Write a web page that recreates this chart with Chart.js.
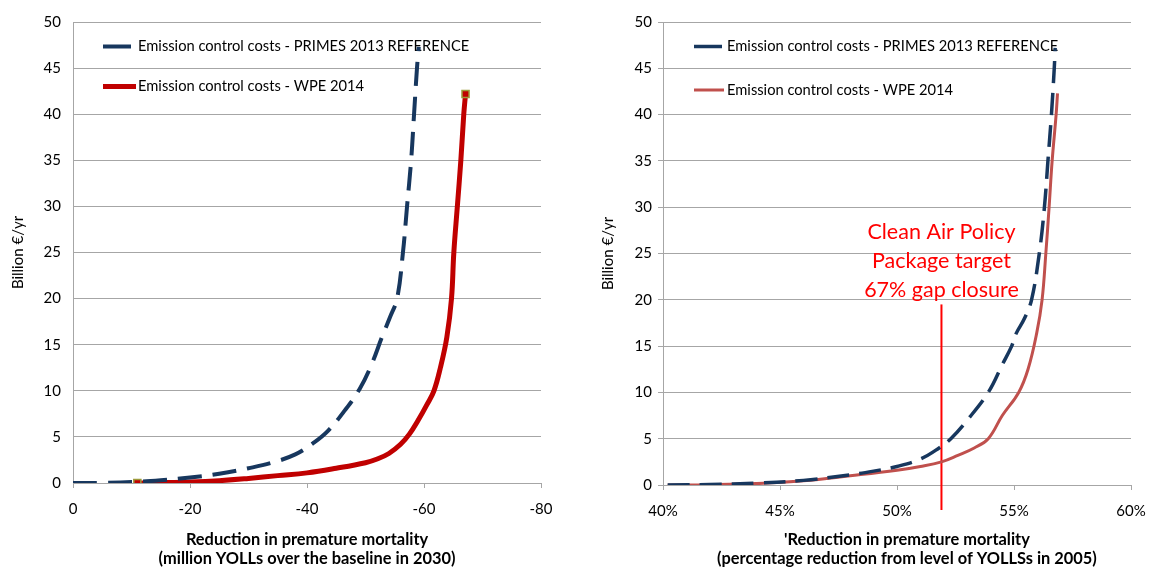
<!DOCTYPE html>
<html>
<head>
<meta charset="utf-8">
<script src="https://cdn.jsdelivr.net/npm/chart.js@4"></script>
<style>
body { margin: 0; background: #fff; width: 1150px; height: 572px; overflow: hidden; }
#left { position: absolute; left: 0; top: 0; }
#right { position: absolute; left: 580px; top: 0; }
</style>
</head>
<body>
<canvas id="left" width="580" height="572"></canvas>
<canvas id="right" width="570" height="572"></canvas>
<script>
const seriesNames = ['Emission control costs - PRIMES 2013 REFERENCE', 'Emission control costs - WPE 2014']

// left chart: reduction in million YOLLs vs billion euro per year
const leftPrimesX = [0, -5, -10, -15, -20, -25, -30, -34, -38, -41, -43.5, -46.5, -49, -51, -52.8, -54.2, -55.4, -56.4, -57.1, -57.8, -58.3, -58.8, -59.1]
const leftPrimesY = [0, 0.02, 0.1, 0.3, 0.6, 1.0, 1.6, 2.2, 3.1, 4.3, 5.6, 7.9, 10.2, 12.8, 15.8, 18, 20, 25, 30, 35, 40, 45, 47.3]
const leftWpeX = [-11, -15, -20, -25, -30, -35, -40, -45, -50, -52, -54, -56, -57.5, -59, -60.5, -61.7, -62.8, -63.9, -64.7, -65.1, -65.7, -66.3, -66.8, -67.1]
const leftWpeY = [0, 0.03, 0.1, 0.25, 0.5, 0.8, 1.1, 1.6, 2.2, 2.6, 3.2, 4.2, 5.3, 6.8, 8.5, 10, 12.5, 15.8, 20, 25, 30, 35, 40, 42.2]

// right chart: percentage reduction from 2005 level vs billion euro per year
const rightPrimesX = [40.2, 42, 44, 46, 48, 49, 50, 51, 51.8, 52.3, 53, 53.9, 54.5, 54.9, 55.1, 55.45, 55.75, 56.08, 56.3, 56.45, 56.6, 56.72, 56.76]
const rightPrimesY = [0, 0.05, 0.2, 0.5, 1.1, 1.5, 2.0, 2.8, 4.0, 5, 7, 10, 13, 15, 16.4, 18, 20, 25, 30, 35, 40, 45, 47.2]
const rightWpeX = [40.2, 42, 44, 46, 48, 50, 51, 51.9, 52.6, 53.3, 53.9, 54.5, 55.2, 55.6, 55.97, 56.2, 56.36, 56.5, 56.63, 56.8, 56.86]
const rightWpeY = [0, 0.03, 0.15, 0.45, 1.0, 1.6, 2.0, 2.5, 3.2, 4.0, 5, 7.5, 10, 12.5, 16.4, 20, 25, 30, 35, 40, 42.3]

// target line and its note
const targetX = [51.9, 51.9]
const targetY = [-2.7, 19.5]
const noteLines = ['Clean Air Policy', 'Package target', '67% gap closure']
const noteY = [27.3, 24.2, 21.0]

const yTitle = 'Billion €/yr'
const leftXTitle = ['Reduction in premature mortality', '(million YOLLs over the baseline in 2030)']
// the nbsp prefix nudges the centred title right, as in the original
const rightXTitle = ["\u00A0\u00A0\u00A0\u00A0\u00A0'Reduction in premature mortality", '\u00A0\u00A0\u00A0\u00A0\u00A0(percentage reduction from level of YOLLSs in 2005)']

const FONT = 'Lato'
const navy = '#17375E'

const zip = (xs, ys) => xs.map((x, i) => ({x, y: ys[i]}))

const insideLegend = {
    id: 'insideLegend',
    beforeDatasetsDraw(chart, args, opts) {
        const ctx = chart.ctx
        ctx.save()
        chart.data.datasets.filter(d => d.label).forEach((ds, i) => {
            const y = opts.y[i]
            ctx.strokeStyle = ds.borderColor
            ctx.lineWidth = ds.borderWidth
            ctx.beginPath()
            ctx.moveTo(opts.x, y)
            ctx.lineTo(opts.x + opts.len[i], y)
            ctx.stroke()
            ctx.fillStyle = '#000'
            ctx.font = `${opts.size}px ${FONT}`
            ctx.textBaseline = 'middle'
            ctx.fillText(ds.label, opts.textX, y)
        })
        ctx.restore()
    }
}

const note = {
    id: 'note',
    afterDatasetsDraw(chart) {
        const ctx = chart.ctx
        const xs = chart.scales.x, ys = chart.scales.y
        ctx.save()
        ctx.fillStyle = '#FF0000'
        ctx.font = `21.5px ${FONT}`
        ctx.textAlign = 'center'
        ctx.textBaseline = 'middle'
        noteLines.forEach((t, i) => ctx.fillText(t, xs.getPixelForValue(targetX[0]), ys.getPixelForValue(noteY[i])))
        ctx.restore()
    }
}

function makeOptions(xOpts, yWidth, xHeight, padRight, yTitlePad, yTicks, legendOpts) {
    return {
        responsive: false,
        animation: false,
        devicePixelRatio: 1,
        layout: {padding: {top: 22, right: padRight, left: 0, bottom: 0}},
        plugins: {legend: {display: false}, tooltip: {enabled: false}, insideLegend: legendOpts},
        elements: {line: {tension: 0.4}},
        scales: {
            x: Object.assign({
                type: 'linear',
                border: {color: '#A6A6A6'},
                grid: {drawOnChartArea: false, drawTicks: true, tickLength: 5, color: '#A6A6A6'},
                afterFit: s => { s.height = xHeight; s.paddingLeft = 0; s.paddingRight = 0 },
            }, xOpts),
            y: {
                min: 0,
                max: 50,
                border: {color: '#A6A6A6'},
                grid: {color: '#A6A6A6', drawTicks: yTicks, tickLength: 5},
                ticks: {stepSize: 5, color: '#000', font: {family: FONT, size: 15}, padding: yTicks ? 6 : 12},
                title: {display: true, text: yTitle, color: '#000', font: {family: FONT, size: 15}, padding: {top: yTitlePad, bottom: 0}},
                afterFit: s => { s.width = yWidth; s.paddingTop = 0; s.paddingBottom = 0 },
            }
        }
    }
}

const xTitleFont = {family: FONT, size: 16.4, weight: 'bold', lineHeight: 1.15}

new Chart(document.getElementById('left'), {
    type: 'line',
    data: {
        datasets: [{
            label: seriesNames[0],
            data: zip(leftPrimesX, leftPrimesY),
            borderColor: navy,
            borderWidth: 4,
            borderDash: [24, 11],
            pointRadius: 0,
        }, {
            label: seriesNames[1],
            data: zip(leftWpeX, leftWpeY),
            borderColor: '#C00000',
            borderWidth: 5,
            pointStyle: 'rect',
            pointRadius: c => (c.dataIndex === 0 || c.dataIndex === leftWpeX.length - 1) ? 5 : 0,
            pointBackgroundColor: '#C00000',
            pointBorderColor: '#9C9A3B',
            pointBorderWidth: 1.5,
        }]
    },
    options: makeOptions({
        min: -80, max: 0, reverse: true,
        ticks: {stepSize: 20, color: '#000', font: {family: FONT, size: 15}, padding: 12},
        title: {display: true, text: leftXTitle, color: '#000', font: xTitleFont, padding: {top: 0, bottom: 4}},
    }, 73, 89, 39, 9, false, {x: 103, len: [28, 33], textX: 138, y: [46.5, 86.5], size: 14.7}),
    plugins: [insideLegend]
})

new Chart(document.getElementById('right'), {
    type: 'line',
    data: {
        datasets: [{
            label: seriesNames[0],
            data: zip(rightPrimesX, rightPrimesY),
            borderColor: navy,
            borderWidth: 3.5,
            borderDash: [22, 10],
            pointRadius: 0,
        }, {
            label: seriesNames[1],
            data: zip(rightWpeX, rightWpeY),
            borderColor: '#C0504D',
            borderWidth: 3,
            pointRadius: 0,
        }, {
            data: zip(targetX, targetY),
            borderColor: '#FF0000',
            borderWidth: 2,
            pointRadius: 0,
            tension: 0,
            clip: false,
        }]
    },
    options: makeOptions({
        min: 40, max: 60,
        ticks: {stepSize: 5, color: '#000', font: {family: FONT, size: 15}, padding: 12, callback: v => v + '%'},
        title: {display: true, text: rightXTitle, color: '#000', font: xTitleFont, padding: {top: 0, bottom: 4}},
    }, 83, 87, 19, 19, true, {x: 114, len: [28, 30], textX: 147, y: [46.5, 90], size: 14.7}),
    plugins: [insideLegend, note]
})
</script>
</body>
</html>
